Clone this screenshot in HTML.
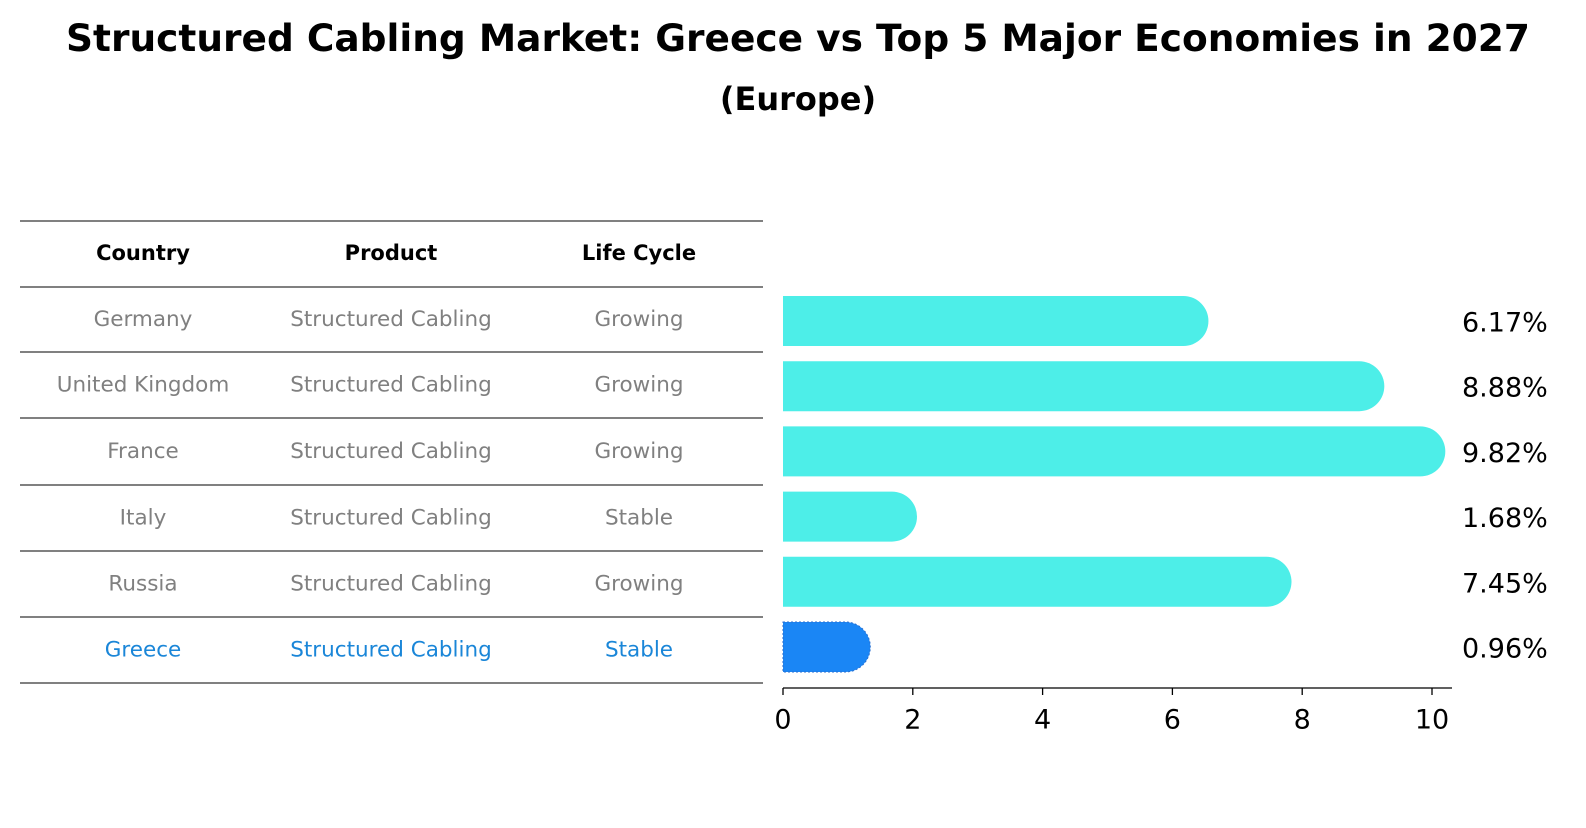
<!DOCTYPE html>
<html><head><meta charset="utf-8">
<style>
body{margin:0;background:#fff;font-family:"Liberation Sans","DejaVu Sans",sans-serif;}
</style></head>
<body>
<svg id="chart" width="1586" height="823" xmlns="http://www.w3.org/2000/svg" font-family="DejaVu Sans, Liberation Sans, sans-serif">
<text x="798" y="38" text-anchor="middle" dominant-baseline="central" font-size="37.5" font-weight="bold">Structured Cabling Market: Greece vs Top 5 Major Economies in 2027</text>
<text x="798" y="99" text-anchor="middle" dominant-baseline="central" font-size="32" font-weight="bold">(Europe)</text>
<g id="table"></g>
<g id="bars"></g>
</svg>
<script>
const countries = ["Germany","United Kingdom","France","Italy","Russia","Greece"];
const products = ["Structured Cabling","Structured Cabling","Structured Cabling","Structured Cabling","Structured Cabling","Structured Cabling"];
const lifeCycles = ["Growing","Growing","Growing","Stable","Growing","Stable"];
const values = [6.17,8.88,9.82,1.68,7.45,0.96];
const valueLabels = ["6.17%","8.88%","9.82%","1.68%","7.45%","0.96%"];
const xTicks = [0,2,4,6,8,10];

const NS="http://www.w3.org/2000/svg";
function mk(tag,attrs,parent,text){const e=document.createElementNS(NS,tag);for(const k in attrs)e.setAttribute(k,attrs[k]);if(text!==undefined)e.textContent=text;parent.appendChild(e);return e;}
const x = v => 783 + v*64.9;
const rowY = i => 321 + i*65.2;

const tbl=document.getElementById('table');
const lineYs=[221,287,352,418,485,551,617,683];
lineYs.forEach((ly,i)=>{const l=mk('line',{x1:20,x2:763,y1:ly,y2:ly,stroke:'#000','stroke-width':1},tbl);

});
const cols=[143,391,639];
["Country","Product","Life Cycle"].forEach((h,j)=>{const t=mk('text',{x:cols[j],y:253,'text-anchor':'middle','dominant-baseline':'central','font-size':21,'font-weight':'bold'},tbl,h);

});
countries.forEach((c,i)=>{
  const yy=(lineYs[i+1]+lineYs[i+2])/2;
  const col = c==="Greece" ? "#1a86d8" : "#808080";
  [c,products[i],lifeCycles[i]].forEach((v,j)=>{const t=mk('text',{x:cols[j],y:yy,'text-anchor':'middle','dominant-baseline':'central','font-size':21.5,fill:col},tbl,v);
  
  });
});

const g=document.getElementById('bars');
const h=50, r=25;
values.forEach((v,i)=>{
  const cy=rowY(i), x0=x(0), x1=x(v);
  const isG=countries[i]==="Greece";
  const d=`M${x0},${cy-h/2} L${x1},${cy-h/2} A${r},${r} 0 0 1 ${x1},${cy+h/2} L${x0},${cy+h/2} Z`;
  const p=mk('path',{d:d,fill:isG?'#1a86f5':'#4deee8'},g);
  if(isG){p.setAttribute('stroke','#2a6fd0');p.setAttribute('stroke-dasharray','2,2');p.setAttribute('stroke-width','1');}
  
  
  const t=mk('text',{x:1462,y:cy+2,'dominant-baseline':'central','font-size':27},g,valueLabels[i]);
  
  
});
const ax=mk('line',{x1:783,x2:1452,y1:688,y2:688,stroke:'#000','stroke-width':1.3},g);


xTicks.forEach(v=>{
  const tk=mk('line',{x1:x(v),x2:x(v),y1:688,y2:695,stroke:'#000','stroke-width':1.3},g);
  
  
  const tl=mk('text',{x:x(v),y:720,'text-anchor':'middle','dominant-baseline':'central','font-size':27},g,String(v));
  
  
});
</script>
</body></html>
